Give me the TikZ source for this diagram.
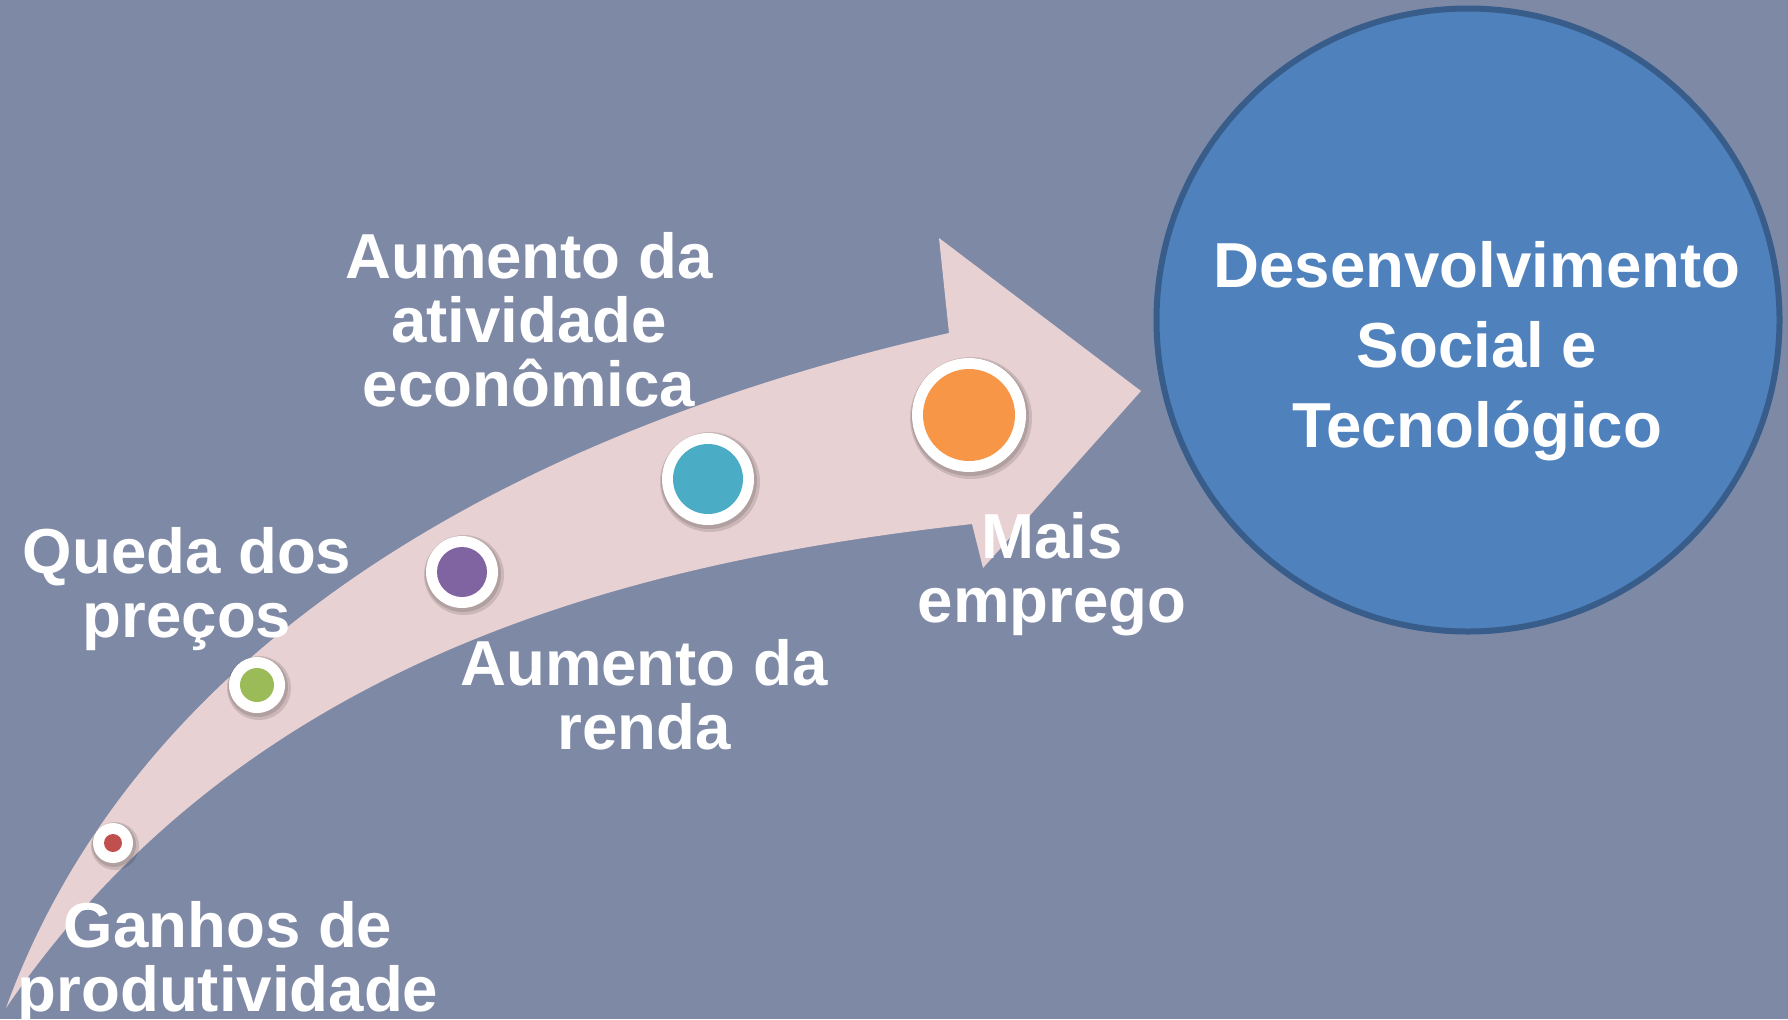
\documentclass[tikz,border=0pt]{standalone}
\usepackage{fontspec}
\setmainfont{Liberation Sans}
\definecolor{bg}{HTML}{7E89A6}
\definecolor{arrowpink}{HTML}{E8D1D2}
\definecolor{circfill}{HTML}{4F81BD}
\definecolor{circborder}{HTML}{385D8A}
\definecolor{dotred}{HTML}{C0504D}
\definecolor{dotgreen}{HTML}{9BBB59}
\definecolor{dotpurple}{HTML}{8064A2}
\definecolor{dotcyan}{HTML}{4BACC6}
\definecolor{dotorange}{HTML}{F79646}
\begin{document}
\begin{tikzpicture}[x=0.5pt,y=-0.5pt,
  lbl/.style={text=white, font=\bfseries\fontsize{31.8}{32}\selectfont, align=center, inner sep=0pt, anchor=base},
  biglbl/.style={text=white, font=\bfseries\fontsize{31.8}{40}\selectfont, align=center, inner sep=0pt, anchor=base},
  ringshadow/.style={fill=black, opacity=0.12, draw=none},
  dotring/.style={circle, fill=white, inner sep=0pt, minimum size=#1},
  dotcore/.style={circle, inner sep=0pt, minimum size=#1}]
\fill[bg] (0,0) rectangle (1788,1019);
\useasboundingbox (0,0) rectangle (1788,1019);
% curved arrow
\fill[arrowpink] (6,1008) .. controls (140,640) and (520,430) .. (949,333)
  -- (939,238) -- (1141,391) -- (983,568) -- (972,524)
  .. controls (650,560) and (250,650) .. (6,1008) -- cycle;
% dots
\foreach \cx/\cy/\ro/\ri/\col/\nm in {113/843/40/18/dotred/d1, 257/685/56/34/dotgreen/d2, 462/572/72/50/dotpurple/d3, 708/479/92/70/dotcyan/d4, 969/415/114/92/dotorange/d5}{
  \fill[ringshadow] (\cx+2,\cy+3) circle ({(\ro/2+4)*0.5pt});
  \fill[ringshadow] (\cx+1,\cy+2) circle ({(\ro/2+2)*0.5pt});
  \node[dotring=\ro*0.5pt] (\nm) at (\cx,\cy) {};
  \node[dotcore=\ri*0.5pt, fill=\col] (\nm c) at (\cx,\cy) {};
}
% big circle
\node[circle, fill=circfill, draw=circborder, line width=3pt, minimum size=623*0.5pt, inner sep=0pt] (goal) at (1468,320) {};
% labels (anchored at the baseline of their last line)
\node[lbl] (ganhos) at (228,1011) {Ganhos de\\produtividade};
\node[lbl] (queda) at (187,637) {Queda dos\\preços};
\node[lbl] (ativ) at (529,406) {Aumento da\\atividade\\econômica};
\node[lbl] (renda) at (644,749) {Aumento da\\renda};
\node[lbl] (emprego) at (1052,622) {Mais\\emprego};
\node[biglbl] (desenv) at (1477,447) {Desenvolvimento\\Social e\\Tecnológico};
\end{tikzpicture}
\end{document}
